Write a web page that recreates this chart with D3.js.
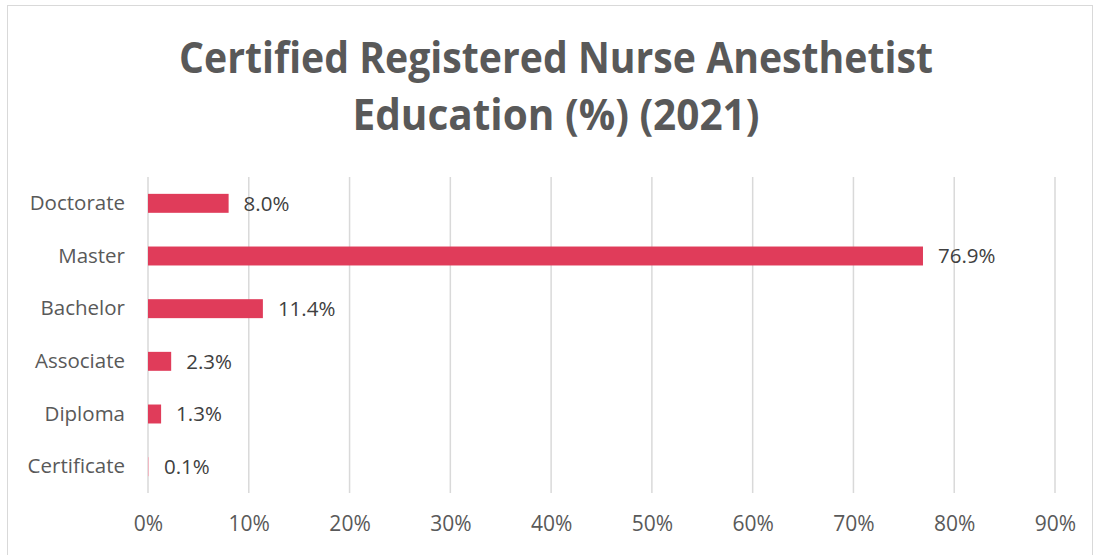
<!DOCTYPE html>
<html>
<head>
<meta charset="utf-8">
<script src="https://cdn.jsdelivr.net/npm/d3@7"></script>
<style>
  body { margin: 0; background: #fff; }
  svg { display: block; font-family: "Open Sans", "Noto Sans", sans-serif; }
</style>
</head>
<body>
<svg width="1095" height="555"></svg>
<script>
// chart data
var titleLines = ["Certified Registered Nurse Anesthetist", "Education (%) (2021)"];
var categories = ["Doctorate", "Master", "Bachelor", "Associate", "Diploma", "Certificate"];
var values = [8.0, 76.9, 11.4, 2.3, 1.3, 0.1];
var tickValues = [0, 10, 20, 30, 40, 50, 60, 70, 80, 90];

var svg = d3.select("svg"),
	margin = {top: 177, right: 40, bottom: 62, left: 148},
	width = +svg.attr("width") - margin.left - margin.right,
	height = +svg.attr("height") - margin.top - margin.bottom;

// light outer frame of the chart area
svg.append("rect")
	.attr("x", 7.5).attr("y", 5.5)
	.attr("width", 1085).attr("height", 560)
	.attr("fill", "none")
	.attr("stroke", "#d9d9d9");

// title, two lines
svg.append("g").selectAll("text")
	.data(titleLines).enter().append("text")
	.attr("x", 556)
	.attr("y", function(d, i) { return 73 + i * 57; })
	.attr("text-anchor", "middle")
	.attr("fill", "#595959")
	.attr("font-size", 43)
	.attr("font-weight", "bold")
	.attr("textLength", function(d, i) { return i == 0 ? 754 : 407; })
	.attr("lengthAdjust", "spacingAndGlyphs")
	.text(function(d) { return d; });

var g = svg.append("g").attr("transform", "translate(" + margin.left + "," + margin.top + ")");

var x = d3.scaleLinear()
	.domain([0, 90])
	.range([0, 907]);
var y = d3.scaleBand()
	.domain(categories)
	.range([0, height])
	.paddingInner(0.64)
	.paddingOuter(0.32);

// vertical gridlines
g.selectAll("line.grid")
	.data(tickValues).enter().append("line")
	.attr("class", "grid")
	.attr("x1", function(d) { return x(d); })
	.attr("x2", function(d) { return x(d); })
	.attr("y1", 0)
	.attr("y2", height)
	.attr("stroke", "#d9d9d9")
	.attr("stroke-width", 1.5);

// x axis, labels only
var xAxis = g.append("g")
	.attr("transform", "translate(0," + height + ")")
	.call(d3.axisBottom(x).tickValues(tickValues).tickSize(0).tickPadding(23)
		.tickFormat(function(d) { return d + "%"; }));
xAxis.select(".domain").remove();
xAxis.selectAll("text")
	.attr("fill", "#595959")
	.attr("font-size", 21)
	.attr("font-family", "Open Sans, sans-serif");

// y axis, labels only
var yAxis = g.append("g")
	.call(d3.axisLeft(y).tickSize(0).tickPadding(23));
yAxis.select(".domain").remove();
yAxis.selectAll("text")
	.attr("fill", "#595959")
	.attr("font-size", 20.5)
	.attr("font-family", "Open Sans, sans-serif");

// bars
g.selectAll("rect.bar")
	.data(values).enter().append("rect")
	.attr("class", "bar")
	.attr("x", x(0))
	.attr("y", function(d, i) { return y(categories[i]); })
	.attr("width", function(d) { return Math.max(x(d) - x(0), 1); })
	.attr("height", y.bandwidth())
	.attr("fill", function(d) { return d < 0.5 ? "#f2b8c3" : "#e03c5a"; });

// value labels
g.selectAll("text.val")
	.data(values).enter().append("text")
	.attr("class", "val")
	.attr("x", function(d) { return x(d) + 15; })
	.attr("y", function(d, i) { return y(categories[i]) + y.bandwidth() / 2; })
	.attr("dy", "0.35em")
	.attr("fill", "#404040")
	.attr("font-size", 20.5)
	.text(function(d) { return d.toFixed(1) + "%"; });
</script>
</body>
</html>
